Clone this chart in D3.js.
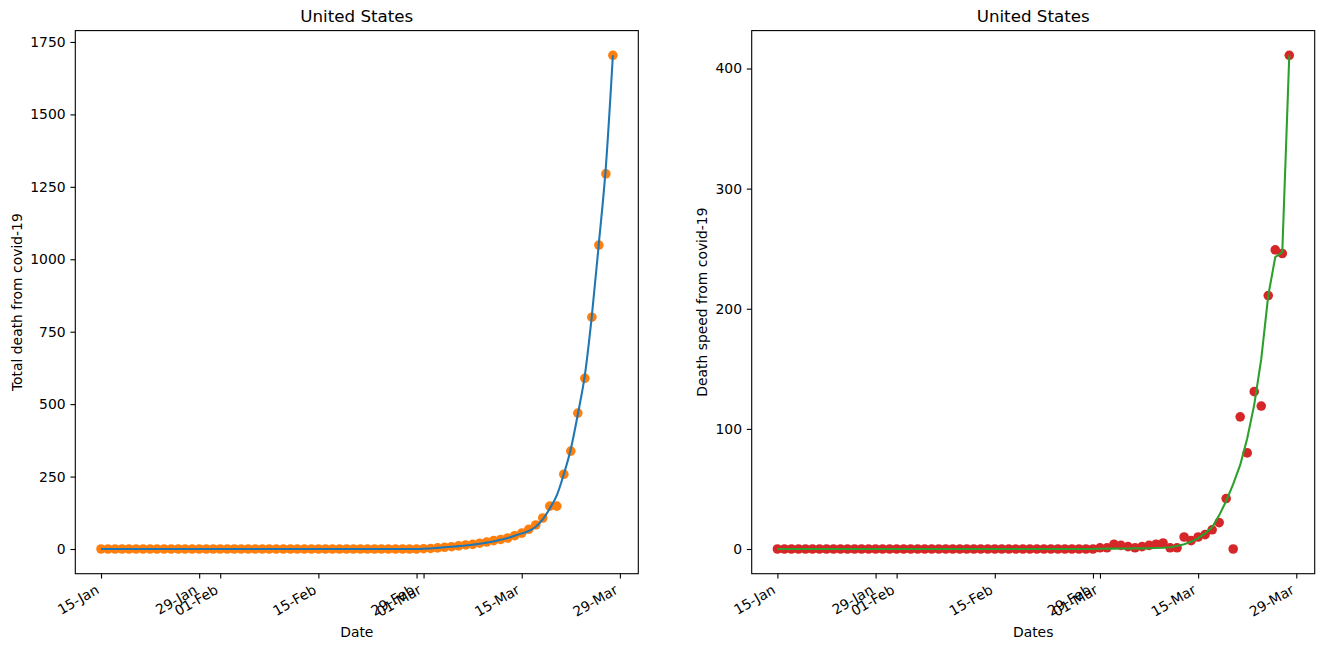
<!DOCTYPE html>
<html>
<head>
<meta charset="utf-8">
<script src="https://d3js.org/d3.v7.min.js"></script>
<style>
  body { margin: 0; background: #fff; }
  svg text { font-family: "DejaVu Sans", sans-serif; fill: #000; }
  .line { fill: none; stroke-width: 2.08; }
</style>
</head>
<body>
<div id="chart"></div>
<script>
// x categories: one point per day from 15-Jan to 28-Mar 2020
var startDay = new Date(2020, 0, 15);
var endDay = new Date(2020, 2, 29);
var dates = d3.timeDay.range(startDay, endDay);

// the first 46 days (15-Jan .. 29-Feb) are zero in every series
var zeros = d3.range(46).map(function() { return 0; });

// total deaths (orange dots) and the smooth curve drawn through them (blue)
var totalDeaths = zeros.concat([1, 2, 4, 6, 8, 11, 14, 16, 20, 24, 29, 33, 38, 46,
  55, 68, 83, 107, 148, 148, 258, 338, 469, 589, 800, 1049, 1295, 1704]);
var totalFit = zeros.concat([1, 2, 4, 6, 8, 10, 12, 15, 18, 22, 26, 32, 38, 46,
  54, 62, 77, 102, 140, 185, 258, 345, 465, 600, 805, 1055, 1320, 1704]);

// daily deaths (red dots) and the smooth curve (green)
var dailyDeaths = zeros.concat([1, 1, 4, 3, 2, 1, 2, 3, 4, 5, 1, 1, 10, 7,
  10, 12, 16, 22, 42, 0, 110, 80, 131, 119, 211, 249, 246, 411]);
var dailyFit = zeros.concat([0.2, 0.3, 0.3, 0.4, 0.4, 0.5, 0.5, 0.6, 0.8, 1, 1.5, 2.5, 4, 6,
  9, 13, 18, 28, 40, 54, 70, 92, 120, 158, 211, 243, 247, 411]);

var xTickDates = ["2020-01-15", "2020-01-29", "2020-02-01", "2020-02-15",
  "2020-02-29", "2020-03-01", "2020-03-15", "2020-03-29"];
var totalTicks = [0, 250, 500, 750, 1000, 1250, 1500, 1750];
var dailyTicks = [0, 100, 200, 300, 400];

var W = 1328, H = 650;
var plotTop = 30.6, plotBottom = 573.7, plotW = 563;
var tickLen = 4.86, pad = 4.86;

var svg = d3.select("#chart").append("svg")
    .attr("width", W)
    .attr("height", H);

var parse = d3.timeParse("%Y-%m-%d");
var fmt = d3.timeFormat("%d-%b");

function panel(opt) {
  var left = opt.left;
  var n = dates.length;
  // matplotlib-like 5% margins
  var xPad = (n - 1) * 0.05;
  var x = d3.scaleTime()
      .domain([d3.timeHour.offset(dates[0], -xPad * 24), d3.timeHour.offset(dates[n - 1], xPad * 24)])
      .range([left, left + plotW]);
  var ymax = d3.max(opt.points.concat(opt.fit));
  var y = d3.scaleLinear()
      .domain([-ymax * 0.05, ymax * 1.05])
      .range([plotBottom, plotTop]);

  var g = svg.append("g");

  g.selectAll(".dot")
    .data(opt.points)
    .enter().append("circle")
    .attr("class", "dot")
    .attr("cx", function(d, i) { return x(dates[i]); })
    .attr("cy", function(d) { return y(d); })
    .attr("r", 4.8)
    .attr("fill", opt.dotColor);

  var line = d3.line()
      .x(function(d, i) { return x(dates[i]); })
      .y(function(d) { return y(d); })
      .curve(opt.curve);

  g.append("path")
    .datum(opt.fit)
    .attr("class", "line")
    .attr("stroke", opt.lineColor)
    .attr("d", line);

  // frame
  g.append("rect")
    .attr("x", left).attr("y", plotTop)
    .attr("width", plotW).attr("height", plotBottom - plotTop)
    .attr("fill", "none").attr("stroke", "#000").attr("stroke-width", 1.1);

  var xAxis = g.append("g")
    .attr("transform", "translate(0," + plotBottom + ")")
    .call(d3.axisBottom(x)
      .tickValues(xTickDates.map(parse))
      .tickFormat(fmt)
      .tickSize(tickLen)
      .tickSizeOuter(0));
  xAxis.select(".domain").remove();
  xAxis.selectAll(".tick line").attr("stroke", "#000").attr("stroke-width", 1.1);
  xAxis.selectAll(".tick text")
    .attr("x", null).attr("y", null).attr("dy", null)
    .attr("text-anchor", "end")
    .attr("font-size", 13.9)
    .attr("transform", "translate(-1.5," + (tickLen + pad + 9.2) + ") rotate(-30)");

  var yAxis = g.append("g")
    .attr("transform", "translate(" + left + ",0)")
    .call(d3.axisLeft(y)
      .tickValues(opt.yTicks)
      .tickFormat(d3.format("d"))
      .tickSize(tickLen)
      .tickPadding(pad)
      .tickSizeOuter(0));
  yAxis.select(".domain").remove();
  yAxis.selectAll(".tick line").attr("stroke", "#000").attr("stroke-width", 1.1);
  yAxis.selectAll(".tick text").attr("font-size", 13.9);

  g.append("text")
    .attr("x", left + plotW / 2)
    .attr("y", 22.3)
    .attr("text-anchor", "middle")
    .attr("font-size", 16.7)
    .text("United States");

  g.append("text")
    .attr("x", left + plotW / 2)
    .attr("y", 637)
    .attr("text-anchor", "middle")
    .attr("font-size", 13.9)
    .text(opt.xLabel);

  g.append("text")
    .attr("transform", "translate(" + opt.yLabelX + "," + ((plotTop + plotBottom) / 2) + ") rotate(-90)")
    .attr("text-anchor", "middle")
    .attr("font-size", 13.9)
    .text(opt.yLabel);
}

panel({
  left: 75.3,
  points: totalDeaths,
  fit: totalFit,
  curve: d3.curveMonotoneX,
  dotColor: "#ff7f0e",
  lineColor: "#1f77b4",
  yTicks: totalTicks,
  xLabel: "Date",
  yLabel: "Total death from covid-19",
  yLabelX: 21.5
});

panel({
  left: 751.7,
  points: dailyDeaths,
  fit: dailyFit,
  curve: d3.curveLinear,
  dotColor: "#d62728",
  lineColor: "#2ca02c",
  yTicks: dailyTicks,
  xLabel: "Dates",
  yLabel: "Death speed from covid-19",
  yLabelX: 706.8
});
</script>
</body>
</html>
